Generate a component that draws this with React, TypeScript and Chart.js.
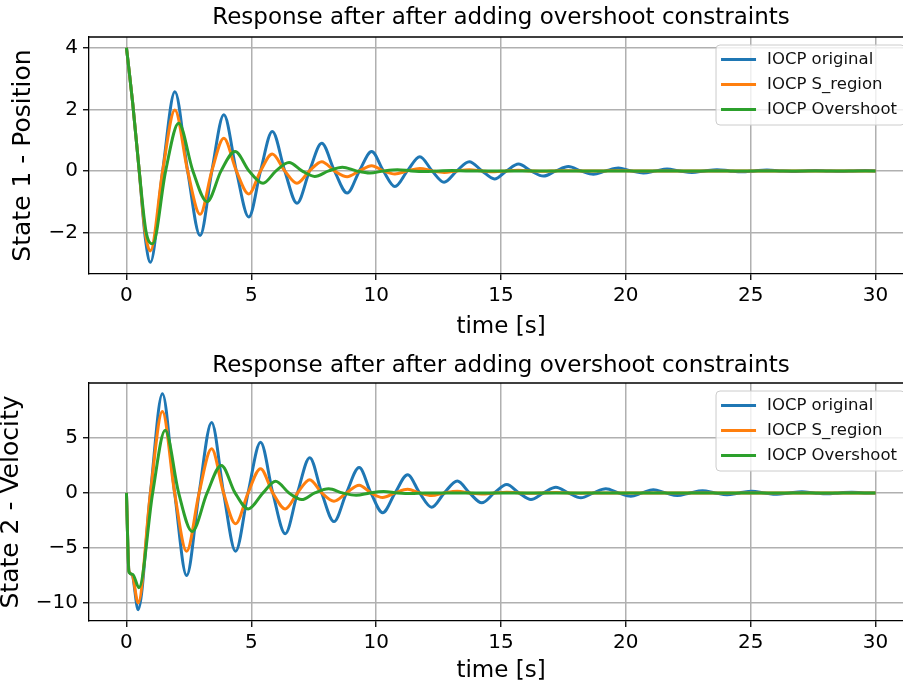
import React, { useEffect, useRef } from 'react';
import { Chart, registerables } from 'chart.js';

Chart.register(...registerables);

const FONT = 'DejaVu Sans';
const BLUE = '#1f77b4';
const ORANGE = '#ff7f0e';
const GREEN = '#2ca02c';

const chartTitle = 'Response after after adding overshoot constraints';
const xLabel = 'time [s]';
const posLabel = 'State 1 - Position';
const velLabel = 'State 2 - Velocity';
const seriesNames = ['IOCP original', 'IOCP S_region', 'IOCP Overshoot'];

const xTicks = [0, 5, 10, 15, 20, 25, 30];
const posTicks = [-2, 0, 2, 4];
const velTicks = [-10, -5, 0, 5];

// ---- State 1 : position (extrema and zero crossings) ----
const posTimeA = [
  0, 0.1, 0.25, 0.5, 0.75, 0.96, 1.45, 1.94, 2.45, 2.95, 3.42, 3.9, 4.4, 4.9, 5.37, 5.84,
  6.34, 6.83, 7.33, 7.82, 8.33, 8.84, 9.33, 9.82, 10.29, 10.75, 11.25, 11.75, 12.24, 12.72,
  13.23, 13.73, 14.24, 14.74, 15.22, 15.7, 16.2, 16.7, 17.2, 17.7, 18.2, 18.7, 19.2, 19.7,
  20.2, 20.7, 21.2, 21.65, 22.15, 22.65, 23.15, 23.65, 24.15, 24.65, 25.15, 25.65, 26.15,
  26.65, 27.15, 27.6, 28.1, 28.6, 29.1, 29.6, 30,
];
const posOriginal = [
  4, 3.3, 2.2, 0.1, -2.15, -2.97, 0, 2.57, 0, -2.1, 0, 1.82, 0, -1.5, 0, 1.28,
  0, -1.05, 0, 0.9, 0, -0.72, 0, 0.63, 0, -0.51, 0, 0.46, 0, -0.37,
  0, 0.3, 0, -0.26, 0, 0.22, 0, -0.17, 0, 0.14, 0, -0.11, 0, 0.09,
  0, -0.07, 0, 0.06, 0, -0.05, 0, 0.04, 0, -0.03, 0, 0.025, 0,
  -0.02, 0, 0.015, 0, -0.01, 0, 0.01, 0,
];
const posSRegion = [
  4, 3.3, 2.2, 0.1, -2.0, -2.6, 0, 1.98, 0, -1.41, 0, 1.06, 0, -0.75, 0, 0.55,
  0, -0.4, 0, 0.3, 0, -0.19, 0, 0.17, 0, -0.1, 0, 0.08, 0, -0.05,
  0, 0.035, 0, -0.025, 0, 0.018, 0, -0.012, 0, 0.008, 0, -0.005, 0, 0.003,
  0, 0, 0, 0, 0, 0, 0, 0, 0, 0, 0, 0, 0,
  0, 0, 0, 0, 0, 0, 0, 0,
];
const posTimeB = [
  0, 0.1, 0.25, 0.5, 0.78, 1.05, 1.57, 2.09, 2.66, 3.23, 3.79, 4.35, 4.91, 5.47, 5.99,
  6.51, 7.03, 7.54, 8.1, 8.65, 9.2, 9.75, 10.3, 10.85, 11.4, 11.95, 12.5, 13.05, 13.6, 30,
];
const posOvershoot = [
  4, 3.3, 2.2, 0.1, -1.95, -2.37, 0, 1.55, 0, -1.0, 0, 0.63, 0, -0.4, 0,
  0.27, 0, -0.18, 0, 0.12, 0, -0.07, 0, 0.04, 0, -0.02, 0, 0.01, 0, 0,
];

// ---- State 2 : velocity ----
const velTimeA = [
  0, 0.1, 0.22, 0.47, 0.96, 1.44, 1.93, 2.41, 2.91, 3.41, 3.89, 4.37, 4.87, 5.37, 5.86,
  6.36, 6.85, 7.34, 7.82, 8.31, 8.81, 9.32, 9.79, 10.26, 10.76, 11.26, 11.74, 12.22, 12.73,
  13.25, 13.74, 14.23, 14.73, 15.23, 15.72, 16.2, 16.7, 17.2, 17.7, 18.2, 18.7, 19.2, 19.7,
  20.2, 20.65, 21.1, 21.6, 22.06, 22.56, 23.07, 23.57, 24.05, 24.55, 25.05, 25.55, 26.05,
  26.55, 27.05, 27.55, 28.05, 28.55, 29.05, 29.55, 30,
];
const velOriginal = [
  0, -7.1, -7.4, -10.6, 0, 9.0, 0, -7.5, 0, 6.4, 0, -5.3, 0, 4.6, 0,
  -3.7, 0, 3.2, 0, -2.6, 0, 2.3, 0, -1.8, 0, 1.65, 0, -1.3, 0,
  1.08, 0, -0.9, 0, 0.76, 0, -0.6, 0, 0.52, 0, -0.44, 0, 0.37, 0,
  -0.31, 0, 0.28, 0, -0.24, 0, 0.2, 0, -0.17, 0, 0.14, 0, -0.12,
  0, 0.1, 0, -0.08, 0, 0.07, 0, 0,
];
const velSRegion = [
  0, -7.1, -7.4, -10.0, 0, 7.4, 0, -5.3, 0, 4.0, 0, -2.8, 0, 2.2, 0,
  -1.45, 0, 1.2, 0, -0.75, 0, 0.7, 0, -0.42, 0, 0.33, 0, -0.24, 0,
  0.15, 0, -0.1, 0, 0.07, 0, -0.04, 0, 0.03, 0, -0.02, 0, 0, 0,
  0, 0, 0, 0, 0, 0, 0, 0, 0, 0, 0, 0, 0,
  0, 0, 0, 0, 0, 0, 0, 0,
];
const velTimeB = [
  0, 0.1, 0.25, 0.5, 1.05, 1.55, 2.09, 2.63, 3.23, 3.8, 4.35, 4.88, 5.47, 5.97, 6.51,
  7.02, 7.54, 8.1, 8.65, 9.2, 9.75, 10.3, 10.85, 11.4, 11.95, 30,
];
const velOvershoot = [
  0, -7.2, -7.4, -8.6, 0, 5.7, 0, -3.5, 0, 2.5, 0, -1.45, 0, 1.06, 0,
  -0.6, 0, 0.38, 0, -0.22, 0, 0.12, 0, -0.06, 0, 0,
];

const pts = (t: number[], v: number[]) => t.map((x, i) => ({ x, y: v[i] }));
const fmt = (v: number) => (v < 0 ? '\u2212' + Math.abs(v) : String(v));

const boxLegend = {
  id: 'boxLegend',
  afterDatasetsDraw(chart: any) {
    const ca = chart.chartArea;
    const ctx = chart.ctx as CanvasRenderingContext2D;
    ctx.save();
    // remaining spines
    ctx.strokeStyle = '#000';
    ctx.lineWidth = 1.3;
    ctx.beginPath();
    ctx.moveTo(ca.left, ca.top);
    ctx.lineTo(ca.right, ca.top);
    ctx.lineTo(ca.right, ca.bottom);
    ctx.stroke();
    // legend frame
    ctx.font = `16.5px "${FONT}"`;
    const ds = chart.data.datasets;
    let maxW = 0;
    ds.forEach((d: any) => { maxW = Math.max(maxW, ctx.measureText(d.label).width); });
    const right = ca.right - 8;
    const width = 51 + maxW + 8;
    const left = right - width;
    const top = ca.top + 8;
    const height = 80;
    const r = 4;
    ctx.beginPath();
    ctx.moveTo(left + r, top);
    ctx.lineTo(right - r, top);
    ctx.quadraticCurveTo(right, top, right, top + r);
    ctx.lineTo(right, top + height - r);
    ctx.quadraticCurveTo(right, top + height, right - r, top + height);
    ctx.lineTo(left + r, top + height);
    ctx.quadraticCurveTo(left, top + height, left, top + height - r);
    ctx.lineTo(left, top + r);
    ctx.quadraticCurveTo(left, top, left + r, top);
    ctx.closePath();
    ctx.fillStyle = 'rgba(255,255,255,0.8)';
    ctx.fill();
    ctx.strokeStyle = '#cccccc';
    ctx.lineWidth = 1;
    ctx.stroke();
    ds.forEach((d: any, i: number) => {
      const y = top + 14.5 + i * 25;
      ctx.strokeStyle = d.borderColor;
      ctx.lineWidth = 3;
      ctx.beginPath();
      ctx.moveTo(left + 5, y);
      ctx.lineTo(left + 40, y);
      ctx.stroke();
      ctx.fillStyle = '#111';
      ctx.textBaseline = 'middle';
      ctx.textAlign = 'left';
      ctx.fillText(d.label, left + 51, y);
    });
    ctx.restore();
  },
};

type PanelOpts = {
  series: { t: number[]; v: number[] }[];
  yMin: number;
  yMax: number;
  yTicks: number[];
  yLabel: string;
  titlePad: { top: number; bottom: number };
  xHeight: number;
  xTitlePadBottom: number;
  yTitlePadTop: number;
  yTitleLineHeight: number;
};

function makeConfig(o: PanelOpts): any {
  const colors = [BLUE, ORANGE, GREEN];
  const tickFont = { family: FONT, size: 20 };
  const labelFont = { family: FONT, size: 23 };
  return {
    type: 'line',
    data: {
      datasets: o.series.map((s, i) => ({
        label: seriesNames[i],
        data: pts(s.t, s.v),
        borderColor: colors[i],
        backgroundColor: colors[i],
        borderWidth: 3,
        pointRadius: 0,
        fill: false,
        cubicInterpolationMode: 'monotone',
        order: 3 - i,
      })),
    },
    options: {
      responsive: false,
      animation: false,
      devicePixelRatio: 1,
      layout: { padding: 0, autoPadding: false },
      plugins: {
        legend: { display: false },
        tooltip: { enabled: false },
        title: {
          display: true,
          text: chartTitle,
          color: '#000',
          font: { family: FONT, size: 23, weight: 'normal', lineHeight: 1.2 },
          padding: o.titlePad,
        },
      },
      scales: {
        x: {
          type: 'linear',
          min: -1.5,
          max: 31.5,
          afterBuildTicks: (a: any) => { a.ticks = xTicks.map((v) => ({ value: v })); },
          afterFit: (s: any) => { s.height = o.xHeight; },
          ticks: { font: tickFont, color: '#000', padding: 4, maxRotation: 0, autoSkip: false, callback: (v: number) => fmt(v) },
          grid: { color: '#b0b0b0', lineWidth: 1.5, tickColor: '#000', tickLength: 6, tickWidth: 1.3 },
          border: { color: '#000', width: 1.3 },
          title: {
            display: true,
            text: xLabel,
            color: '#000',
            font: { ...labelFont, lineHeight: 1.2 },
            padding: { top: 0, bottom: o.xTitlePadBottom },
          },
        },
        y: {
          type: 'linear',
          min: o.yMin,
          max: o.yMax,
          afterBuildTicks: (a: any) => { a.ticks = o.yTicks.map((v) => ({ value: v })); },
          afterFit: (s: any) => { s.width = 89; },
          ticks: { font: tickFont, color: '#000', padding: 5, autoSkip: false, callback: (v: number) => fmt(v) },
          grid: { color: '#b0b0b0', lineWidth: 1.5, tickColor: '#000', tickLength: 6, tickWidth: 1.3 },
          border: { color: '#000', width: 1.3 },
          title: {
            display: true,
            text: o.yLabel,
            color: '#000',
            font: { family: FONT, size: 25, lineHeight: o.yTitleLineHeight },
            padding: { top: o.yTitlePadTop, bottom: 0 },
          },
        },
        // empty right-hand margin (the axes continue past the window edge)
        yRight: {
          type: 'linear',
          position: 'right',
          display: true,
          afterFit: (s: any) => { s.width = 89; },
          ticks: { display: false },
          grid: { display: false, drawTicks: false },
          border: { display: false },
        },
      },
    },
    plugins: [boxLegend],
  };
}

function Panel({ top, height, cfg }: { top: number; height: number; cfg: any }) {
  const ref = useRef<HTMLCanvasElement | null>(null);
  useEffect(() => {
    if (!ref.current) return;
    const chart = new Chart(ref.current, cfg);
    return () => chart.destroy();
  }, []);
  return (
    <canvas
      ref={ref}
      width={1002}
      height={height}
      style={{ position: 'absolute', left: 0, top, width: 1002, height }}
    />
  );
}

export default function App() {
  const posCfg = makeConfig({
    series: [
      { t: posTimeA, v: posOriginal },
      { t: posTimeA, v: posSRegion },
      { t: posTimeB, v: posOvershoot },
    ],
    yMin: -3.35,
    yMax: 4.35,
    yTicks: posTicks,
    yLabel: posLabel,
    titlePad: { top: 4, bottom: 5.4 },
    xHeight: 70,
    xTitlePadBottom: 3.6,
    yTitlePadTop: 8.5,
    yTitleLineHeight: 1.2,
  });
  const velCfg = makeConfig({
    series: [
      { t: velTimeA, v: velOriginal },
      { t: velTimeA, v: velSRegion },
      { t: velTimeB, v: velOvershoot },
    ],
    yMin: -11.63,
    yMax: 9.98,
    yTicks: velTicks,
    yLabel: velLabel,
    titlePad: { top: 8, bottom: 3.4 },
    xHeight: 66,
    xTitlePadBottom: 2.2,
    yTitlePadTop: 0,
    yTitleLineHeight: 0.9,
  });
  return (
    <div
      style={{
        position: 'fixed',
        left: 0,
        top: 0,
        width: 903,
        height: 686,
        overflow: 'hidden',
        background: '#fff',
      }}
    >
      <Panel top={0} height={344} cfg={posCfg} />
      <Panel top={344} height={343} cfg={velCfg} />
    </div>
  );
}
